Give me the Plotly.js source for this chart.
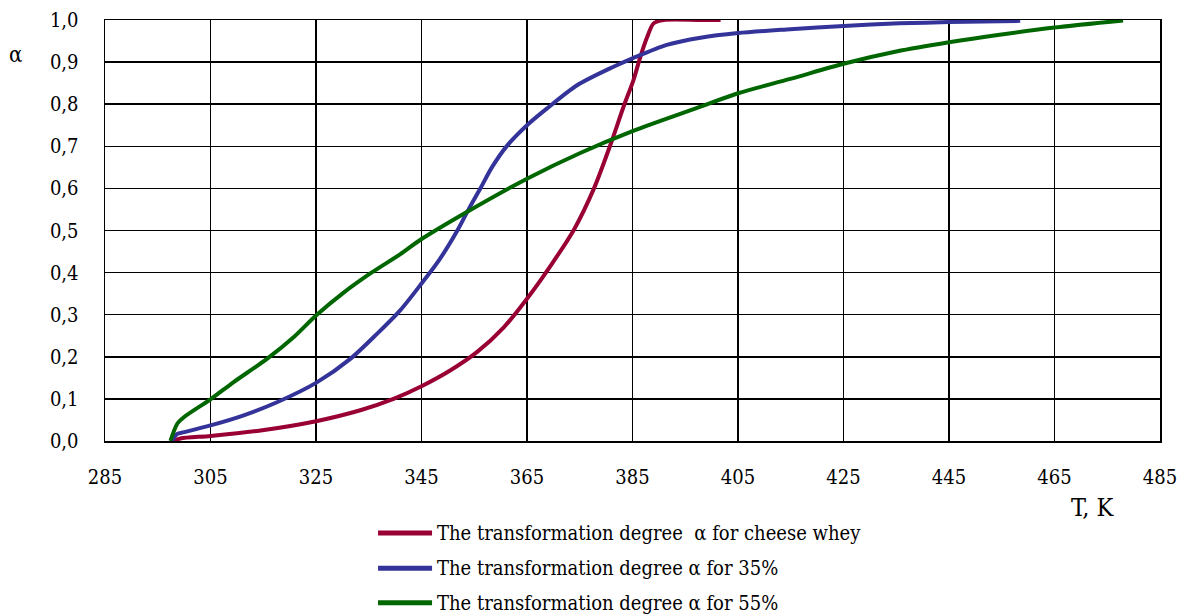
<!DOCTYPE html>
<html>
<head>
<meta charset="utf-8">
<script src="https://cdn.plot.ly/plotly-3.0.1.min.js"></script>
<style>
  html, body { margin: 0; padding: 0; background: #fff; }
  #chart { width: 1180px; height: 614px; }
</style>
</head>
<body>
<div id="chart"></div>
<script>
// Temperature (K) and transformation degree α for each sample
const wheyT = [298, 299.3, 305, 314.5, 325, 333.4, 339.7, 345, 350.5, 355.5, 360.6, 365, 369.4, 373.9, 377.7, 380.8, 383.3, 385.2, 386.5, 387.8, 389, 390.9, 397.9, 401.7];
const wheyA = [0, 0.006, 0.012, 0.025, 0.047, 0.073, 0.1, 0.13, 0.168, 0.211, 0.27, 0.338, 0.415, 0.502, 0.6, 0.703, 0.794, 0.858, 0.913, 0.96, 0.992, 1.0, 1.0, 1.0];

const p35T = [297.7, 298.7, 300, 305, 311.3, 317.6, 325, 331.5, 336.6, 341, 345, 348.3, 351.8, 354, 356.2, 358.4, 361.2, 365, 368.8, 374.5, 381.4, 385, 391.5, 397.9, 405, 414.9, 425, 435.6, 445, 458.5];
const p35A = [0, 0.017, 0.021, 0.037, 0.061, 0.092, 0.138, 0.195, 0.255, 0.311, 0.374, 0.429, 0.5, 0.552, 0.601, 0.651, 0.701, 0.75, 0.79, 0.845, 0.889, 0.909, 0.941, 0.958, 0.969, 0.978, 0.986, 0.992, 0.995, 0.998];

const p55T = [297.4, 298.7, 300, 305, 309.4, 315.7, 320.8, 325, 330.3, 335.3, 341, 344.8, 353.6, 365, 375.1, 385, 397.9, 405, 414.9, 425, 435, 445, 454.6, 465, 478];
const p55A = [0, 0.041, 0.057, 0.099, 0.14, 0.195, 0.247, 0.298, 0.353, 0.398, 0.444, 0.478, 0.544, 0.623, 0.684, 0.736, 0.794, 0.826, 0.86, 0.896, 0.925, 0.947, 0.965, 0.982, 0.999];

const seriesNames = [
  'The transformation degree  α for cheese whey',
  'The transformation degree α for 35%',
  'The transformation degree α for 55%'
];
const seriesColors = ['#990033', '#333399', '#006600'];

const xTitle = 'T, K';
const yTitle = 'α';

const FONT = 'DejaVu Serif Condensed';

const xs = [wheyT, p35T, p55T];
const ys = [wheyA, p35A, p55A];

const traces = xs.map((x, i) => ({
  type: 'scatter',
  mode: 'lines',
  x: x,
  y: ys[i],
  name: seriesNames[i],
  line: { color: seriesColors[i], width: 4, shape: 'spline', smoothing: 0.8 },
  hoverinfo: 'x+y+name'
}));

// Hand-built legend under the plot: a coloured bar followed by the label
const legendX0 = 0.2588, legendX1 = 0.31, legendTextX = 0.3128;
const legendRows = [-0.2185, -0.302, -0.384];

const shapes = seriesNames.map((n, i) => ({
  type: 'line', xref: 'paper', yref: 'paper',
  x0: legendX0, x1: legendX1, y0: legendRows[i], y1: legendRows[i],
  line: { color: seriesColors[i], width: 5 }
}));

const annotations = seriesNames.map((n, i) => ({
  xref: 'paper', yref: 'paper', x: legendTextX, y: legendRows[i],
  xanchor: 'left', yanchor: 'middle', showarrow: false,
  text: n, font: { family: FONT, size: 20, color: '#000' }
}));

annotations.push({
  xref: 'paper', yref: 'paper', x: -0.0853, y: 0.917,
  xanchor: 'center', yanchor: 'middle', showarrow: false,
  text: yTitle, font: { family: FONT, size: 22, color: '#000' }
});
annotations.push({
  xref: 'paper', yref: 'paper', x: 0.9365, y: -0.159,
  xanchor: 'center', yanchor: 'middle', showarrow: false,
  text: xTitle, font: { family: FONT, size: 25, color: '#000' }
});

const layout = {
  width: 1180,
  height: 614,
  margin: { l: 105, r: 20, t: 20, b: 173, pad: 0 },
  paper_bgcolor: '#fff',
  plot_bgcolor: '#fff',
  separators: ', ',
  showlegend: false,
  font: { family: FONT, size: 20, color: '#000' },
  xaxis: {
    range: [285, 485],
    tick0: 285, dtick: 20,
    showgrid: true, gridcolor: '#000', gridwidth: 1.5,
    showline: true, linecolor: '#000', linewidth: 1.5, mirror: true,
    zeroline: false, ticks: '', ticklabelstandoff: 17,
    tickfont: { family: FONT, size: 20, color: '#000' }
  },
  yaxis: {
    range: [0, 1],
    tick0: 0, dtick: 0.1, tickformat: '.1f',
    showgrid: true, gridcolor: '#000', gridwidth: 1.5,
    showline: true, linecolor: '#000', linewidth: 1.5, mirror: true,
    zeroline: false, ticks: '', ticklabelstandoff: 21,
    tickfont: { family: FONT, size: 20, color: '#000' }
  },
  shapes: shapes,
  annotations: annotations
};

Plotly.newPlot('chart', traces, layout, { displayModeBar: false, staticPlot: true });
</script>
</body>
</html>
